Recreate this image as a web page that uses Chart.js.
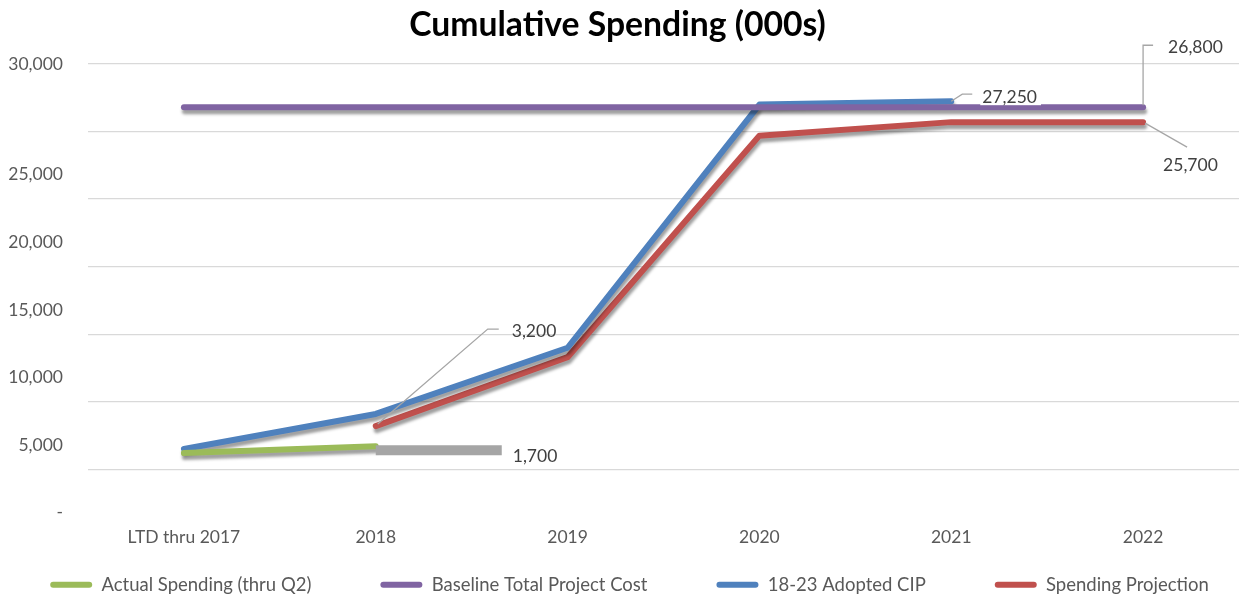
<!DOCTYPE html>
<html>
<head>
<meta charset="utf-8">
<title>Cumulative Spending (000s)</title>
<script src="https://cdn.jsdelivr.net/npm/chart.js@4.4.1/dist/chart.umd.min.js"></script>
<style>
  html, body { margin: 0; padding: 0; background: #ffffff; }
  #wrap { width: 1239px; height: 599px; }
</style>
</head>
<body>
<div id="wrap"><canvas id="c" width="1239" height="599"></canvas></div>
<script>
// ---------------- data ----------------
const categories = ['LTD thru 2017', '2018', '2019', '2020', '2021', '2022'];
const seriesNames = ['Actual Spending (thru Q2)', 'Baseline Total Project Cost', '18-23 Adopted CIP', 'Spending Projection'];
const actualSpending     = [1200, 1700, null, null, null, null];
const baselineCost       = [26800, 26800, 26800, 26800, 26800, 26800];
const adoptedCIP         = [1500, 4100, 9000, 27000, 27250, null];
const spendingProjection = [null, 3200, 8300, 24700, 25700, 25700];
const gridValues  = [0, 5000, 10000, 15000, 20000, 25000, 30000];
const yTickLabels = ['-', '5,000', '10,000', '15,000', '20,000', '25,000', '30,000'];
const yLabelShift = [3200, 3200, 3200, 3200, 3200, 3200, 0]; // label placement quirk of the original
const axisMin = -3500, axisMax = 30000;

// ---------------- styles ----------------
const colors = ['#9BBB59', '#8064A2', '#4F81BD', '#C0504D'];
const FONT = 'Lato';
const LEGEND_HEIGHT = 52.4;
const LEGEND_LIFT = 40;
const LEGEND_GAP = 69;
const LEGEND_EXTRA = 300;
const LEGEND_SHIFT = 12;

// callouts: offsets (px) relative to the data point
const callouts = [
  { series: 1, index: 5, leader: [[0, -2], [0, -62], [10, -62]], text: [25, -60] },
  { series: 2, index: 4, leader: [[0, 0], [11, -7], [21, -7]], text: [31, -4], box: true },
  { series: 3, index: 5, leader: [[2, 1], [44, 25]], text: [20, 43] },
  { series: 3, index: 1, leader: [[2, -2], [112, -97], [123, -97]], text: [136, -95] },
  { series: 0, index: 1, bar: [[0, 4], [126, 4]], text: [137, 10] }
];

const seriesValues = [actualSpending, baselineCost, adoptedCIP, spendingProjection];

const shadowPlugin = {
  id: 'lineShadow',
  beforeDatasetDraw(chart) {
    const ctx = chart.ctx;
    ctx.save();
    ctx.shadowColor = 'rgba(0,0,0,0.38)';
    ctx.shadowBlur = 3;
    ctx.shadowOffsetX = 1;
    ctx.shadowOffsetY = 4;
  },
  afterDatasetDraw(chart) { chart.ctx.restore(); }
};

const calloutPlugin = {
  id: 'callouts',
  afterDatasetsDraw(chart) {
    const ctx = chart.ctx;
    ctx.save();
    callouts.forEach(c => {
      const pt = chart.getDatasetMeta(c.series).data[c.index];
      const value = seriesValues[c.series][c.index];
      if (!pt || value == null) return;
      const x = pt.x, y = pt.y;
      if (c.bar) {
        ctx.strokeStyle = '#A5A5A5';
        ctx.lineWidth = 10;
        ctx.lineCap = 'butt';
        ctx.beginPath();
        ctx.moveTo(x + c.bar[0][0], y + c.bar[0][1]);
        ctx.lineTo(x + c.bar[1][0], y + c.bar[1][1]);
        ctx.stroke();
      }
      if (c.leader) {
        ctx.strokeStyle = '#A6A6A6';
        ctx.lineWidth = 1.3;
        ctx.lineCap = 'butt';
        ctx.beginPath();
        c.leader.forEach((p, i) => {
          if (i === 0) ctx.moveTo(x + p[0], y + p[1]); else ctx.lineTo(x + p[0], y + p[1]);
        });
        ctx.stroke();
      }
      const label = value.toLocaleString('en-US');
      ctx.font = '17.5px ' + FONT;
      ctx.textBaseline = 'middle';
      ctx.textAlign = 'left';
      const tx = x + c.text[0], ty = y + c.text[1];
      if (c.box) {
        const w = ctx.measureText(label).width;
        ctx.fillStyle = '#ffffff';
        ctx.fillRect(tx - 2, ty - 11, w + 6, 19);
      }
      ctx.fillStyle = '#404040';
      ctx.fillText(label, tx, ty);
    });
    ctx.restore();
  }
};

// keep the legend on one wide-spaced row, compact in height
const legendPatch = {
  id: 'legendPatch',
  afterInit(chart) {
    const lg = chart.legend;
    if (!lg) return;
    const update0 = lg.update.bind(lg);
    lg.update = function (mw, mh, m) { update0(mw + LEGEND_EXTRA, mh, m); };
    const fit0 = lg.fit.bind(lg);
    lg.fit = function () { fit0(); this.height = LEGEND_HEIGHT; };
    const draw0 = lg.draw.bind(lg);
    lg.draw = function () {
      const t = this.top, l = this.left, r = this.right;
      this.top = t - LEGEND_LIFT;
      this.left = l - LEGEND_EXTRA / 2 + LEGEND_SHIFT;
      this.right = r + LEGEND_EXTRA / 2 + LEGEND_SHIFT;
      draw0();
      this.top = t; this.left = l; this.right = r;
    };
  }
};

const datasets = seriesNames.map((name, i) => ({
  label: name,
  data: seriesValues[i],
  borderColor: colors[i],
  backgroundColor: colors[i],
  borderWidth: 6,
  borderCapStyle: 'round',
  borderJoinStyle: 'round',
  pointRadius: 0,
  pointHoverRadius: 0,
  tension: 0,
  spanGaps: false,
  fill: false
}));

new Chart(document.getElementById('c'), {
  type: 'line',
  data: { labels: categories, datasets },
  plugins: [shadowPlugin, calloutPlugin, legendPatch],
  options: {
    responsive: false,
    animation: false,
    devicePixelRatio: 1,
    layout: { padding: { left: -10, right: -6, top: 0, bottom: 0 } },
    plugins: {
      tooltip: { enabled: false },
      title: {
        display: true,
        text: 'Cumulative Spending (000s)',
        color: '#000000',
        font: { family: FONT, size: 33.7, weight: 'bold' },
        padding: { top: 4.8, bottom: 18.8 }
      },
      legend: {
        display: true,
        position: 'bottom',
        labels: {
          color: '#595959',
          font: { family: FONT, size: 18.5 },
          boxWidth: 42,
          boxHeight: 6,
          padding: LEGEND_GAP,
          useBorderRadius: true,
          borderRadius: 3,
          generateLabels(chart) {
            const items = Chart.defaults.plugins.legend.labels.generateLabels(chart);
            items.forEach(it => { it.lineWidth = 0; });
            return items;
          }
        }
      }
    },
    scales: {
      x: {
        type: 'category',
        offset: true,
        grid: { display: false, drawTicks: false },
        border: { display: false },
        ticks: { color: '#595959', font: { family: FONT, size: 17.5 }, padding: 10, maxRotation: 0, autoSkip: false },
        afterFit(s) { s.height = 30; }
      },
      y: {
        type: 'linear',
        position: 'left',
        min: axisMin,
        max: axisMax,
        grid: { color: '#D9D9D9', lineWidth: 1.3, drawTicks: false },
        border: { display: false },
        ticks: { display: false },
        afterBuildTicks(s) { s.ticks = gridValues.map(v => ({ value: v })); },
        afterFit(s) { s.width = 0; }
      },
      yl: {
        type: 'linear',
        position: 'left',
        min: axisMin,
        max: axisMax,
        grid: { display: false, drawTicks: false },
        border: { display: false },
        ticks: {
          color: '#595959',
          font: { family: FONT, size: 17.5 },
          padding: 25,
          autoSkip: false,
          callback: (value, index) => yTickLabels[index]
        },
        afterBuildTicks(s) { s.ticks = gridValues.map((v, i) => ({ value: v - yLabelShift[i] })); },
        afterFit(s) { s.width = 98; }
      }
    }
  }
});
</script>
</body>
</html>
